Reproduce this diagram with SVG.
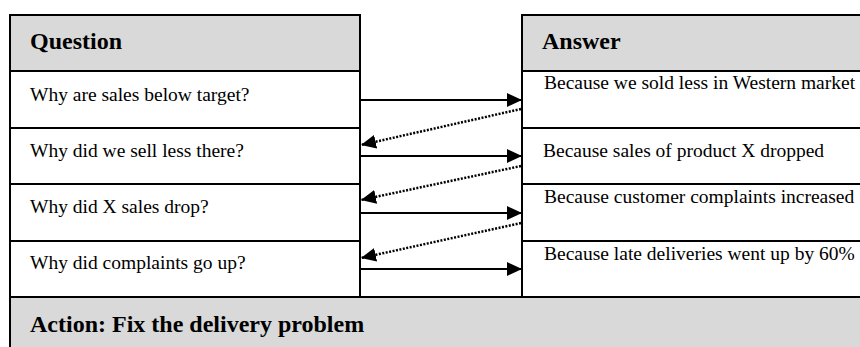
<svg xmlns="http://www.w3.org/2000/svg" width="860" height="347" viewBox="0 0 860 347">
<style>
.box{fill:#ffffff;stroke:#000000;stroke-width:2}
.hdr{fill:#d9d9d9;stroke:#000000;stroke-width:2}
.ht{font-family:"Liberation Serif","Times New Roman",serif;font-weight:bold;font-size:24px;fill:#000000}
.bt{font-family:"Liberation Serif","Times New Roman",serif;font-size:19.5px;fill:#000000}
.solid{stroke:#000000;stroke-width:2;fill:none}
.dot{stroke:#000000;stroke-width:2.5;fill:none;stroke-dasharray:2 1.5}
</style>
<defs>
<marker id="ah" viewBox="0 0 15 14" refX="15" refY="7" markerWidth="15" markerHeight="14" markerUnits="userSpaceOnUse" orient="auto">
<path d="M0,0 L15,7 L0,14 z" fill="#000000"/>
</marker>
</defs>
<rect x="0" y="0" width="860" height="347" fill="#ffffff"/>
<g id="action">
<rect class="hdr" x="10" y="297" width="880" height="80"/>
<text class="ht" x="30" y="332">Action: Fix the delivery problem</text>
</g>
<g id="q-header">
<rect class="hdr" x="10" y="15" width="350" height="56"/>
<text class="ht" x="30" y="49">Question</text>
</g>
<g id="q1">
<rect class="box" x="10" y="71" width="350" height="57"/>
<text class="bt" x="30" y="101">Why are sales below target?</text>
</g>
<g id="q2">
<rect class="box" x="10" y="128" width="350" height="56"/>
<text class="bt" x="30" y="157">Why did we sell less there?</text>
</g>
<g id="q3">
<rect class="box" x="10" y="184" width="350" height="57"/>
<text class="bt" x="30" y="213">Why did X sales drop?</text>
</g>
<g id="q4">
<rect class="box" x="10" y="241" width="350" height="56"/>
<text class="bt" x="30" y="269">Why did complaints go up?</text>
</g>
<g id="a-header">
<rect class="hdr" x="522" y="15" width="370" height="56"/>
<text class="ht" x="542" y="49">Answer</text>
</g>
<g id="a1">
<rect class="box" x="522" y="71" width="370" height="57"/>
<text class="bt" x="544" y="89">Because we sold less in Western market</text>
</g>
<g id="a2">
<rect class="box" x="522" y="128" width="370" height="56"/>
<text class="bt" x="543" y="157">Because sales of product X dropped</text>
</g>
<g id="a3">
<rect class="box" x="522" y="184" width="370" height="57"/>
<text class="bt" x="544" y="203">Because customer complaints increased</text>
</g>
<g id="a4">
<rect class="box" x="522" y="241" width="370" height="56"/>
<text class="bt" x="544" y="260">Because late deliveries went up by 60%</text>
</g>
<g id="connectors">
<line class="solid" x1="361" y1="100" x2="522" y2="100" marker-end="url(#ah)"/>
<line class="dot" x1="521" y1="109" x2="361" y2="145" marker-end="url(#ah)"/>
<line class="solid" x1="361" y1="156" x2="522" y2="156" marker-end="url(#ah)"/>
<line class="dot" x1="521" y1="166" x2="361" y2="200" marker-end="url(#ah)"/>
<line class="solid" x1="361" y1="213" x2="522" y2="213" marker-end="url(#ah)"/>
<line class="dot" x1="521" y1="223" x2="361" y2="258" marker-end="url(#ah)"/>
<line class="solid" x1="361" y1="269" x2="522" y2="269" marker-end="url(#ah)"/>
</g>
</svg>
